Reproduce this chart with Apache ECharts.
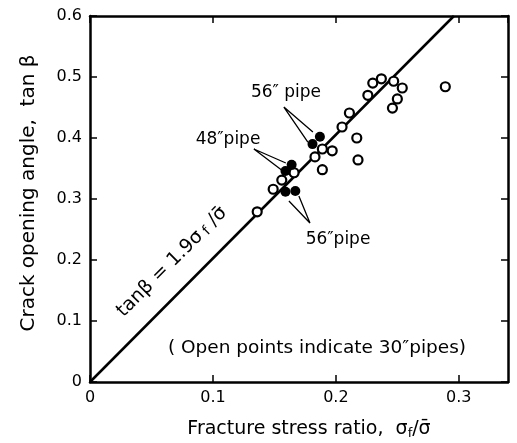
<!DOCTYPE html>
<html>
<head>
<meta charset="utf-8">
<script src="https://cdn.jsdelivr.net/npm/echarts@6/dist/echarts.min.js"></script>
<style>
  html, body { margin: 0; padding: 0; background: #fff; }
  #chart { width: 517px; height: 443px; }
</style>
</head>
<body>
<div id="chart"></div>
<script>
// open circles: 30" pipes  [stress ratio, tan beta]
var openPoints = [
  [0.136, 0.279], [0.149, 0.316], [0.156, 0.331], [0.166, 0.343],
  [0.183, 0.369], [0.189, 0.348], [0.189, 0.382], [0.197, 0.379],
  [0.205, 0.418], [0.211, 0.441], [0.217, 0.400], [0.218, 0.364],
  [0.226, 0.470], [0.230, 0.490], [0.237, 0.497], [0.247, 0.493],
  [0.254, 0.482], [0.250, 0.464], [0.246, 0.449], [0.289, 0.484]
];
// filled: 56" and 48" pipes
var filledPoints = [
  [0.187, 0.402], [0.181, 0.390],
  [0.164, 0.356], [0.159, 0.346],
  [0.159, 0.312], [0.167, 0.313]
];
var fitLine = [[0, 0], [0.296, 0.6]];
// pointer wedges (base, tip, base)
var pointers = [
  [[0.1813, 0.4098], [0.1577, 0.4508], [0.1772, 0.3934]],
  [[0.1593, 0.3590], [0.1333, 0.3820], [0.1569, 0.3459]],
  [[0.1618, 0.2967], [0.1789, 0.2607], [0.1699, 0.3049]]
];
var xTicks = [0, 0.1, 0.2, 0.3];
var yTicks = [0, 0.1, 0.2, 0.3, 0.4, 0.5, 0.6];

var font = 'DejaVu Sans';
var chart = echarts.init(document.getElementById('chart'));

function fmt(v) {
  if (Math.abs(v) < 1e-9) return '0';
  return v.toFixed(1);
}

var series = [{
  type: 'line',
  data: fitLine,
  symbol: 'none',
  lineStyle: { color: '#000', width: 2.5 },
  silent: true,
  z: 2
}];
pointers.forEach(function (p) {
  series.push({
    type: 'line',
    data: p,
    symbol: 'none',
    lineStyle: { color: '#000', width: 1.3 },
    silent: true,
    z: 2
  });
});
series.push({
  type: 'scatter',
  data: openPoints,
  symbol: 'circle',
  symbolSize: 9,
  itemStyle: { color: '#fff', borderColor: '#000', borderWidth: 2.2, opacity: 1 },
  z: 3
});
series.push({
  type: 'scatter',
  data: filledPoints,
  symbol: 'circle',
  symbolSize: 10,
  itemStyle: { color: '#000', opacity: 1 },
  z: 4
});

var axisBase = {
  type: 'value',
  axisLine: { show: true, onZero: false, lineStyle: { color: '#000', width: 2.5 } },
  axisTick: { show: true, inside: true, length: 7, lineStyle: { color: '#000', width: 1.5 } },
  splitLine: { show: false }
};

function isTick(v, list) {
  for (var i = 0; i < list.length; i++) {
    if (Math.abs(v - list[i]) < 1e-6) return true;
  }
  return false;
}

chart.setOption({
  backgroundColor: '#fff',
  animation: false,
  grid: { left: 90, right: 9, top: 16, bottom: 61 },
  xAxis: [
    Object.assign({}, axisBase, {
      position: 'bottom', min: 0, max: 0.34, interval: 0.1,
      axisLabel: {
        color: '#000', fontFamily: font, fontSize: 16, margin: 8,
        showMaxLabel: false,
        formatter: function (v) { return isTick(v, xTicks) ? fmt(v) : ''; }
      }
    }),
    Object.assign({}, axisBase, {
      position: 'top', min: 0, max: 0.34, interval: 0.1,
      axisLabel: { show: false }
    })
  ],
  yAxis: [
    Object.assign({}, axisBase, {
      position: 'left', min: 0, max: 0.6, interval: 0.1,
      axisLabel: {
        color: '#000', fontFamily: font, fontSize: 16, margin: 8,
        formatter: function (v) { return isTick(v, yTicks) ? fmt(v) : ''; }
      }
    }),
    Object.assign({}, axisBase, {
      position: 'right', min: 0, max: 0.6, interval: 0.1,
      axisLabel: { show: false }
    })
  ],
  graphic: [
    {
      type: 'text', x: 29, y: 193, rotation: Math.PI / 2,
      style: {
        text: 'Crack opening angle,  tan β', fill: '#000',
        font: '20px "DejaVu Sans"', align: 'center', verticalAlign: 'middle',
        textAlign: 'center', textVerticalAlign: 'middle'
      }
    },
    {
      type: 'text', x: 309, y: 429,
      style: {
        text: 'Fracture stress ratio,  σ{s|f}/σ̄', fill: '#000',
        font: '19px "DejaVu Sans"', align: 'center', verticalAlign: 'middle',
        textAlign: 'center', textVerticalAlign: 'middle',
        rich: { s: { fontSize: 13, fontFamily: font, padding: [10, 0, 0, 0], fill: '#000' } }
      }
    },
    {
      type: 'text', x: 286, y: 93,
      style: {
        text: '56\u2033 pipe', fill: '#000', font: '17px "DejaVu Sans"',
        align: 'center', verticalAlign: 'middle', textAlign: 'center', textVerticalAlign: 'middle'
      }
    },
    {
      type: 'text', x: 228, y: 140,
      style: {
        text: '48\u2033pipe', fill: '#000', font: '17px "DejaVu Sans"',
        align: 'center', verticalAlign: 'middle', textAlign: 'center', textVerticalAlign: 'middle'
      }
    },
    {
      type: 'text', x: 338, y: 240,
      style: {
        text: '56\u2033pipe', fill: '#000', font: '17px "DejaVu Sans"',
        align: 'center', verticalAlign: 'middle', textAlign: 'center', textVerticalAlign: 'middle'
      }
    },
    {
      type: 'text', x: 317, y: 348,
      style: {
        text: '( Open points indicate 30\u2033pipes)', fill: '#000', font: '18.5px "DejaVu Sans"',
        align: 'center', verticalAlign: 'middle', textAlign: 'center', textVerticalAlign: 'middle'
      }
    },
    {
      type: 'text', x: 172, y: 262, rotation: Math.PI / 4,
      style: {
        text: 'tanβ = 1.9σ{s|f} /σ̄', fill: '#000', font: '19px "DejaVu Sans"',
        align: 'center', verticalAlign: 'middle', textAlign: 'center', textVerticalAlign: 'middle',
        rich: { s: { fontSize: 14, fontFamily: font, padding: [6, 0, 0, 4], fill: '#000' } }
      }
    }
  ],
  series: series
});
</script>
</body>
</html>
